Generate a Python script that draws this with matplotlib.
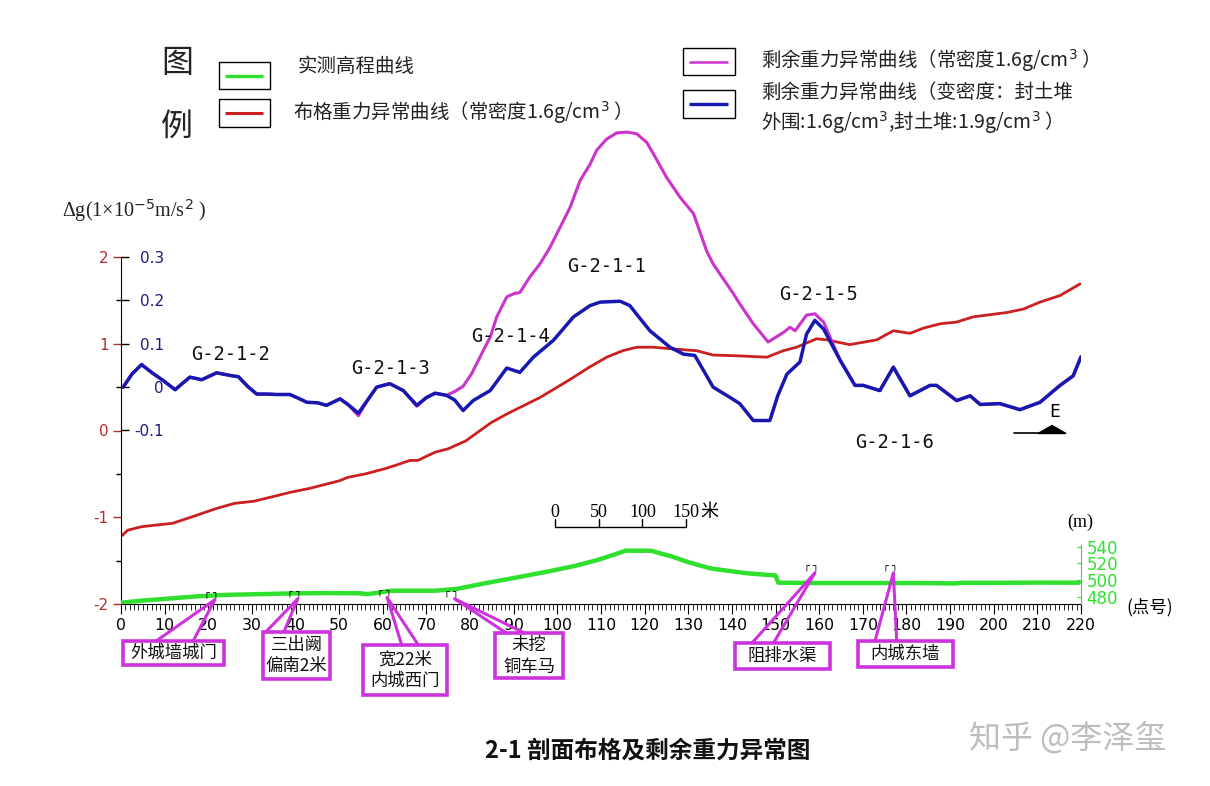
import matplotlib
matplotlib.use('Agg')
import matplotlib.pyplot as plt
from matplotlib.patches import Rectangle, Polygon

W, H = 1210, 786
CJK = ['Noto Sans CJK SC', 'DejaVu Sans']
plt.rcParams['font.family'] = CJK
plt.rcParams['axes.unicode_minus'] = False
plt.rcParams['mathtext.fontset'] = 'dejavusans'
plt.rcParams['lines.solid_joinstyle'] = 'round'
plt.rcParams['lines.solid_capstyle'] = 'round'

# ---------------- data ----------------
# Bouguer anomaly (constant density 1.6), left red scale
bouguer_x = [0.3, 1.5, 4.6, 8, 11.8, 16, 21.8, 26, 30.5, 35, 39, 43, 47.7, 50, 52, 56,
             60.5, 63, 66.2, 68, 72, 75, 79, 84.8, 88.4, 92, 96, 100, 103.6, 107, 111.3,
             115, 118.2, 122, 126.5, 131.9, 135.7, 141.8, 148, 151.8, 154.8, 159.4, 161.7,
             167, 173.2, 177, 180.8, 183.9, 187.7, 191.5, 195.3, 203, 206.8, 210.6, 215.2, 219.8]
bouguer_y = [-1.21, -1.15, -1.11, -1.09, -1.07, -1.0, -0.9, -0.84, -0.815, -0.76, -0.71, -0.67,
             -0.61, -0.58, -0.54, -0.5, -0.44, -0.4, -0.345, -0.345, -0.25, -0.21, -0.12, 0.09,
             0.19, 0.28, 0.38, 0.5, 0.61, 0.72, 0.845, 0.92, 0.96, 0.96, 0.94, 0.92, 0.87, 0.86,
             0.845, 0.92, 0.96, 1.057, 1.045, 0.99, 1.045, 1.15, 1.12, 1.18, 1.23, 1.25, 1.31,
             1.36, 1.4, 1.48, 1.556, 1.69]

# residual anomaly, variable density (blue scale)
resid_var_x = [0.5, 2.5, 4.7, 7.4, 9.7, 12.4, 14, 15.8, 18.5, 21.9, 25, 26.9, 29, 31.1, 33.4,
               35.7, 38.7, 40.5, 42.6, 45, 47.1, 50.2, 52, 54.4, 56.5, 58.6, 61.6, 64.7, 67.8,
               70, 72, 74.6, 76.5, 78.4, 80.7, 84.6, 88.4, 91.4, 94.5, 99.1, 103.7, 107.5, 109.8,
               114.4, 116.6, 121.2, 125.8, 128.9, 131.5, 135.7, 139.6, 141.8, 144.9, 148.7, 150.5,
               152.6, 155.6, 157.1, 159, 161, 164.8, 168.2, 170.1, 173.9, 177, 180.8, 185.4, 186.9,
               191.5, 194.6, 196.9, 201.4, 206, 210.6, 215.2, 218.2, 220]
resid_var_y = [0.0, 0.03, 0.052, 0.031, 0.015, -0.006, 0.008, 0.023, 0.017, 0.033, 0.027, 0.024,
               0.002, -0.016, -0.016, -0.017, -0.017, -0.025, -0.035, -0.036, -0.042, -0.027,
               -0.04, -0.06, -0.03, 0.0, 0.008, -0.008, -0.042, -0.024, -0.014, -0.019, -0.03,
               -0.054, -0.031, -0.008, 0.044, 0.034, 0.069, 0.108, 0.162, 0.188, 0.196, 0.198,
               0.188, 0.13, 0.092, 0.076, 0.073, 0.0, -0.024, -0.038, -0.077, -0.077, -0.02,
               0.03, 0.058, 0.122, 0.154, 0.134, 0.062, 0.004, 0.004, -0.008, 0.046, -0.02,
               0.004, 0.004, -0.031, -0.02, -0.04, -0.038, -0.052, -0.035, 0.004, 0.026, 0.07]

# residual anomaly, constant density 1.6 (blue scale)
resid_const_x = [0.5, 2.5, 4.7, 7.4, 9.7, 12.4, 14, 15.8, 18.5, 21.9, 25, 26.9, 29, 31.1, 33.4,
                 35.7, 38.7, 40.5, 42.6, 45, 47.1, 50.2, 52, 54.4, 56.5, 58.6, 61.6, 64.7, 67.8,
                 70, 72, 74.6, 76.5, 78.4, 80.3, 83, 84.6, 86.1, 88.4, 90.2, 91.4, 93.7, 96, 98.3,
                 100.6, 102.9, 105.2, 107.5, 109, 111.3, 113.6, 116, 118.2, 120.5, 122, 125, 128.1,
                 131.2, 134.2, 135.7, 140.3, 141.8, 144.9, 148.3, 151.8, 153.3, 154.5, 157.1, 159,
                 161, 164.8, 168.2, 170.1, 173.9, 177, 180.8, 185.4, 186.9, 191.5, 194.6, 196.9,
                 201.4, 206, 210.6, 215.2, 218.2, 220]
resid_const_y = [0.0, 0.03, 0.052, 0.031, 0.015, -0.006, 0.008, 0.023, 0.017, 0.033, 0.027, 0.024,
                 0.002, -0.016, -0.016, -0.017, -0.017, -0.025, -0.035, -0.036, -0.042, -0.027,
                 -0.04, -0.066, -0.03, 0.0, 0.008, -0.008, -0.044, -0.024, -0.014, -0.019, -0.01,
                 0.002, 0.03, 0.084, 0.115, 0.162, 0.208, 0.216, 0.218, 0.254, 0.284, 0.322, 0.368,
                 0.414, 0.476, 0.514, 0.546, 0.572, 0.586, 0.588, 0.584, 0.564, 0.538, 0.484, 0.438,
                 0.4, 0.314, 0.284, 0.216, 0.192, 0.146, 0.104, 0.126, 0.138, 0.13, 0.166, 0.169,
                 0.15, 0.062, 0.004, 0.004, -0.008, 0.046, -0.02, 0.004, 0.004, -0.031, -0.02,
                 -0.04, -0.038, -0.052, -0.035, 0.004, 0.026, 0.07]

# measured elevation (m), right green scale
elev_x = [0, 5, 11.8, 17, 23.3, 30, 40.4, 48, 54.8, 56.5, 58, 62, 72, 77, 83.4, 90, 97.7, 104,
          109.2, 113, 115.6, 121.4, 126.4, 130, 135, 140, 143.6, 150, 150.6, 160, 170, 180, 185,
          190.8, 193, 200, 210, 219.5]
elev_y = [472.9, 475.5, 478.2, 480.4, 482.2, 483.0, 484.2, 484.4, 484.2, 483.2, 484.2, 487.3,
          487.3, 489.5, 496.2, 502.5, 510.1, 517, 524.1, 530.5, 535.2, 535.2, 528, 521.5, 514.1,
          510.5, 508.1, 505.5, 496.9, 496.5, 496.5, 496.5, 496.4, 496.0, 496.8, 496.7, 497.0, 496.9]

x_major = list(range(0, 221, 10))
x_minor = list(range(0, 221, 1))
red_ticks = [-2, -1, 0, 1, 2]
red_minor = [-1.5, -0.5, 0.5, 1.5]
blue_ticks = [-0.1, 0, 0.1, 0.2, 0.3]
blue_labels = ['-0.1', '0', '0.1', '0.2', '0.3']
elev_ticks = [480, 500, 520, 540]

anomaly_names = ['G-2-1-2', 'G-2-1-3', 'G-2-1-4', 'G-2-1-1', 'G-2-1-5', 'G-2-1-6']
anomaly_pos = [(231, 355), (390, 368), (511, 337), (607, 267), (819, 294), (895, 443)]

site_labels = ['外城墙城门', '三出阙\n偏南2米', '宽22米\n内城西门', '未挖\n铜车马', '阻排水渠', '内城东墙']
site_x = [21.5, 40.5, 61, 76.5, 159, 177]
site_elev = [476.5, 477.5, 479, 477.5, 508.5, 508.5]

scale_m = [0, 50, 100, 150]

# ---------------- colours ----------------
GREEN = '#2fe02f'
RED = '#cc2020'
MAG = '#cc33cc'
BLUE = '#1818b0'
RED_T = '#b03030'
NAVY = '#1c1c7a'
BOXM = '#cc33dd'

fig = plt.figure(figsize=(W / 100, H / 100), dpi=100)
PPU = 86.75
ytop = -2 + 484 / PPU
ax = fig.add_axes([121 / W, 1 - 604 / H, 960 / W, 484 / H])
ax.set_xlim(0, 220)
ax.set_ylim(-2, ytop)
for s in ['top', 'right']:
    ax.spines[s].set_visible(False)
ax.spines['left'].set_bounds(-2, 2)
ax.spines['bottom'].set_bounds(0, 220)
ax.set_xticks(x_major)
ax.set_xticks(x_minor, minor=True)
ax.set_xticklabels([str(v) for v in x_major])
ax.tick_params(axis='x', which='major', direction='out', length=7, width=0.8, pad=3, labelsize=11.3)
ax.tick_params(axis='x', which='minor', direction='out', length=4, width=0.6)
ax.set_yticks(red_ticks)
ax.set_yticks(red_minor, minor=True)
ax.set_yticklabels([str(v) for v in red_ticks])
ax.tick_params(axis='y', which='major', direction='out', length=6, width=1, color=RED_T,
               labelcolor=RED_T, pad=3, labelsize=11)
ax.tick_params(axis='y', which='minor', direction='out', length=3.5, width=1, color='black')
for l in ax.get_xticklabels() + ax.get_yticklabels():
    l.set_family('DejaVu Sans')

ax.plot(bouguer_x, bouguer_y, color=RED, lw=2.0)

# blue (residual) scale sharing left spine
axb = ax.twinx()
axb.set_ylim(-2 / 5 - 0.1, ytop / 5 - 0.1)
for s in axb.spines.values():
    s.set_visible(False)
axb.spines['right'].set_position(('axes', 0))
axb.set_yticks(blue_ticks)
axb.set_yticklabels(blue_labels)
axb.tick_params(axis='y', direction='out', length=6, width=1, color='black',
                labelcolor=NAVY, pad=25, labelsize=11)
for l in axb.get_yticklabels():
    l.set_ha('right')
    l.set_family('DejaVu Sans')
axb.plot(resid_const_x, resid_const_y, color=MAG, lw=2.2)
axb.plot(resid_var_x, resid_var_y, color=BLUE, lw=2.5)

# elevation scale
axg = ax.twinx()
axg.set_ylim(540 - 57.3 / 0.835, 540 + 426.7 / 0.835)
for s in axg.spines.values():
    s.set_visible(False)
axg.spines['right'].set_visible(True)
axg.spines['right'].set_color(GREEN)
axg.spines['right'].set_bounds(471.4, 542.5)
axg.set_yticks(elev_ticks)
axg.set_yticklabels([str(v) for v in elev_ticks])
axg.tick_params(axis='y', direction='in', length=3, color=GREEN, labelcolor=GREEN, pad=4, labelsize=12)
for l in axg.get_yticklabels():
    l.set_family('DejaVu Sans')
axg.plot(elev_x, elev_y, color=GREEN, lw=3.2)

# scale bar in data units (1 point = 5 m)
sx0 = 99.5
sxs = [sx0 + m / 5 for m in scale_m]
ax.plot([sxs[0], sxs[-1]], [-1.107, -1.107], color='black', lw=1)
for sx, m in zip(sxs, scale_m):
    ax.plot([sx, sx], [-1.107, -1.02], color='black', lw=1)
    ax.text(sx, -0.945, str(m), ha='center', va='center', fontsize=13, family='Liberation Serif')
ax.text(sxs[-1] + 3.3, -0.945, '米', ha='left', va='center', fontsize=13, family=CJK)

# ---------------- overlay in pixel coordinates ----------------
ov = fig.add_axes([0, 0, 1, 1], zorder=10)
ov.set_xlim(0, W)
ov.set_ylim(H, 0)
ov.axis('off')

# legend
ov.text(177, 63, '图', ha='center', va='center', fontsize=23, color='#222222')
ov.text(177, 127, '例', ha='center', va='center', fontsize=23, color='#222222')
legend_items = [((219.3, 61.7, 50.7, 27.6), GREEN, 2.4),
                ((219.3, 99.3, 50.7, 28.0), RED, 2.2),
                ((683.3, 48.3, 51.7, 26.7), MAG, 1.8),
                ((683.3, 90.0, 51.7, 28.3), BLUE, 2.4)]
for (x0, y0, w, h), c, lw in legend_items:
    ov.add_patch(Rectangle((x0, y0), w, h, fill=False, ec='black', lw=1))
    ov.plot([x0 + 6, x0 + w - 7], [y0 + h / 2, y0 + h / 2], color=c, lw=lw, solid_capstyle='butt')
tk = dict(fontsize=14, color='#222222', va='center', ha='left')
ov.text(298, 67, '实测高程曲线', **tk)
ov.text(293, 113, '布格重力异常曲线（常密度1.6g/cm$^{3}$ ）', **tk)
ov.text(761, 61, '剩余重力异常曲线（常密度1.6g/cm$^{3}$ ）', **tk)
ov.text(761, 92, '剩余重力异常曲线（变密度：封土堆', **tk)
ov.text(761, 123, '外围:1.6g/cm$^{3}$,封土堆:1.9g/cm$^{3}$ ）', **tk)

# axis labels
ov.text(62, 211, 'Δg(1×10$^{-5}$m/s$^{2}$ )', ha='left', va='center', fontsize=14.5,
        family='Liberation Serif', color='#222222')
ov.text(1080, 522, '(m)', ha='center', va='center', fontsize=13, family='Liberation Serif')
ov.text(1150, 607, '(点号)', ha='center', va='center', fontsize=12.5)

# anomaly names
for name, (px, py) in zip(anomaly_names, anomaly_pos):
    ov.text(px, py, name, ha='center', va='center', fontsize=13.5, family='DejaVu Sans Mono',
            color='#111111')

# direction arrow
ov.plot([1014, 1040], [433, 433], color='black', lw=1.2)
ov.add_patch(Polygon([(1038, 433.5), (1066, 433.5), (1052, 425.5)], closed=True, color='black'))
ov.text(1055, 412, 'E', ha='center', va='center', fontsize=13, family='DejaVu Sans Mono')

# site annotations with callouts
boxes = [(123.3, 640.7, 100.7, 24.3, 156.7, 193.3),
         (263.3, 631.7, 66.7, 47.6, 266.0, 284.0),
         (363.3, 645.0, 83.4, 50.0, 401.7, 418.3),
         (495.0, 633.3, 68.3, 45.0, 506.7, 525.0),
         (735.0, 643.3, 95.0, 26.0, 751.7, 773.3),
         (857.7, 641.0, 95.0, 26.3, 875.0, 896.7)]
for lab, mx, me, (bx0, by0, bw, bh, w1, w2) in zip(site_labels, site_x, site_elev, boxes):
    dx, dy = axg.transData.transform((mx, me))
    tx, ty = dx, H - dy
    ov.plot([w1, tx], [by0, ty], color=BOXM, lw=2.2)
    ov.plot([w2, tx], [by0, ty], color=BOXM, lw=2.2)
    ov.add_patch(Rectangle((bx0, by0), bw, bh, fc='white', ec=BOXM, lw=2.6, zorder=3))
    ov.text(bx0 + bw / 2, by0 + bh / 2, lab, ha='center', va='center', fontsize=12.5,
            linespacing=1.25, color='#111111', zorder=4)
    ov.text(tx - 3, ty - 6, '┌ ┐', ha='center', va='center', fontsize=7, family='DejaVu Sans',
            color='black')

# title and watermark
ov.text(648, 750, '2-1 剖面布格及剩余重力异常图', ha='center', va='center', fontsize=17,
        weight='bold', color='#111111')
ov.text(1068, 738, '知乎 @李泽玺', ha='center', va='center', fontsize=23, color='#bdbdbd')

fig.savefig('out.png', dpi=100)
